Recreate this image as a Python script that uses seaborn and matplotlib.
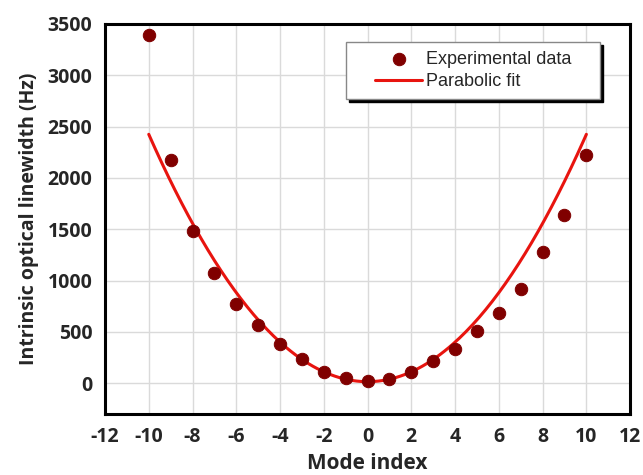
# linewidth vs mode index with parabolic fit

import numpy as np
import pandas as pd
import matplotlib.pyplot as plt
import seaborn as sns
from matplotlib.collections import PathCollection
from matplotlib.lines import Line2D
from matplotlib.legend_handler import HandlerLine2D, HandlerPathCollection

# data
mode_index = [-10, -9, -8, -7, -6, -5, -4, -3, -2, -1, 0, 1, 2, 3, 4, 5, 6, 7, 8, 9, 10]
linewidth_hz = [3390, 2170, 1480, 1070, 770, 570, 380, 240, 110, 50, 25, 40, 110, 220,
                330, 510, 680, 920, 1280, 1640, 2220]

# parabolic fit coefficients (a, b, c) as seen in the figure
fit_coef = [24.1, 0.0, 15.0]

df = pd.DataFrame({"mode": mode_index, "lw": linewidth_hz})
x_fit = np.linspace(-10, 10, 201)
fit_df = pd.DataFrame({"mode": x_fit, "lw": np.polyval(fit_coef, x_fit)})

sns.set_style("whitegrid")
plt.rcParams["font.family"] = ["Open Sans", "DejaVu Sans"]
plt.rcParams["axes.unicode_minus"] = False

fig = plt.figure(figsize=(6.43, 4.75), dpi=100)
ax = fig.add_axes([0.1633, 0.1284, 0.8167, 0.8211])

sns.lineplot(data=fit_df, x="mode", y="lw", color="#e8140f", linewidth=2.2,
             label="Parabolic fit", ax=ax, zorder=2)
sns.scatterplot(data=df, x="mode", y="lw", color="#800000", s=80, edgecolor="#800000",
                label="Experimental data", ax=ax, zorder=3)

ax.set_xlim(-12, 12)
ax.set_ylim(-300, 3500)
ax.set_xticks(range(-12, 13, 2))
ax.set_yticks(range(0, 3501, 500))
ax.grid(True, color="#dadada", linewidth=1)

for s in ax.spines.values():
    s.set_color("black")
    s.set_linewidth(2.2)

ax.tick_params(axis="both", direction="out", length=6, width=2, color="black",
               labelsize=14, pad=3)
for lab in ax.get_xticklabels() + ax.get_yticklabels():
    lab.set_fontweight("bold")

ax.set_xlabel("Mode index", fontsize=15, fontweight="bold", labelpad=5)
ax.set_ylabel("Intrinsic optical linewidth (Hz)", fontsize=14, fontweight="bold", labelpad=6)

handles, labels = ax.get_legend_handles_labels()
leg = ax.legend(handles[::-1], [l + "    " for l in labels[::-1]], loc="upper right",
                bbox_to_anchor=(0.943, 0.954), frameon=True, fancybox=False,
                shadow={"color": "black", "alpha": 1},
                prop={"family": "Liberation Sans", "size": 13},
                borderpad=0.5, borderaxespad=0, handlelength=3.7,
                labelspacing=0.3, handletextpad=0.2,
                handler_map={Line2D: HandlerLine2D(xpad=1.1),
                             PathCollection: HandlerPathCollection(xpad=1.1)})
leg.get_frame().set_edgecolor("#888888")
leg.get_frame().set_linewidth(1)
leg.get_frame().set_alpha(1)

fig.savefig("out.png", dpi=100)
